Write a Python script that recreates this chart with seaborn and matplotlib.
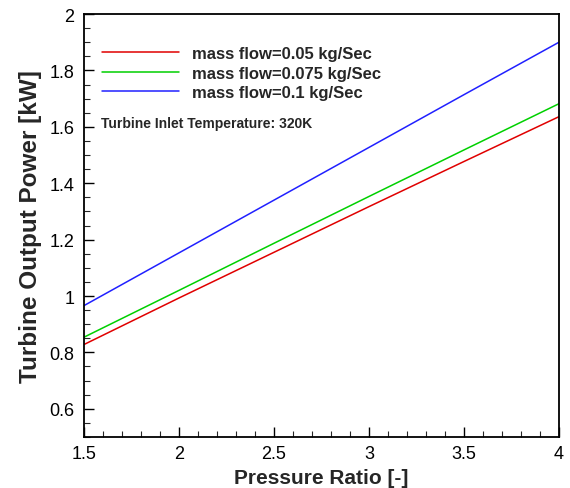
import numpy as np
import pandas as pd
import matplotlib
matplotlib.use("Agg")
import matplotlib.pyplot as plt
from matplotlib.ticker import MultipleLocator
import seaborn as sns

# values
pressure_ratio = [1.5, 2.0, 2.5, 3.0, 3.5, 4.0]
power_005 = [0.828, 0.993, 1.155, 1.317, 1.477, 1.636]
power_0075 = [0.854, 1.020, 1.187, 1.353, 1.518, 1.682]
power_01 = [0.966, 1.153, 1.340, 1.527, 1.714, 1.900]
series_labels = ["mass flow=0.05 kg/Sec", "mass flow=0.075 kg/Sec", "mass flow=0.1 kg/Sec"]
series_colors = ["#e00000", "#00d000", "#2020ff"]

sns.set_theme(style="ticks")
plt.rcParams['font.family'] = ['Liberation Sans', 'DejaVu Sans']

df = pd.DataFrame({
    "pr": pressure_ratio * 3,
    "power": power_005 + power_0075 + power_01,
    "series": [series_labels[0]] * 6 + [series_labels[1]] * 6 + [series_labels[2]] * 6,
})

fig = plt.figure(figsize=(5.7, 4.89), dpi=100)
ax = fig.add_axes([0.1474, 0.1043, 0.8333, 0.865])

sns.lineplot(data=df, x="pr", y="power", hue="series", hue_order=series_labels,
             palette=series_colors, linewidth=1.1, ax=ax)

ax.set_xlim(1.5, 4)
ax.set_ylim(0.5, 2)
ax.xaxis.set_minor_locator(MultipleLocator(0.1))
ax.yaxis.set_minor_locator(MultipleLocator(0.05))
ax.set_yticks([0.6, 0.8, 1.0, 1.2, 1.4, 1.6, 1.8, 2.0])
ax.set_yticklabels(["0.6", "0.8", "1", "1.2", "1.4", "1.6", "1.8", "2"])
ax.set_xticks([1.5, 2, 2.5, 3, 3.5, 4])
ax.set_xticklabels(["1.5", "2", "2.5", "3", "3.5", "4"])
ax.tick_params(which="major", direction="in", length=7, width=1, labelsize=13, colors="black")
ax.tick_params(axis="x", which="major", pad=6)
ax.tick_params(axis="y", which="major", pad=7)
ax.tick_params(which="minor", direction="in", length=4, width=0.8)
for s in ax.spines.values():
    s.set_linewidth(1.3)
    s.set_color("black")

ax.set_xlabel("Pressure Ratio [-]", fontsize=15, fontweight="bold", labelpad=4)
ax.set_ylabel("Turbine Output Power [kW]", fontsize=17.5, fontweight="bold", labelpad=5)

leg = ax.legend(loc="upper left", bbox_to_anchor=(0.038, 0.924), frameon=False,
                borderpad=0, borderaxespad=0,
                handlelength=4.6, handletextpad=0.8, labelspacing=0.27,
                prop={"weight": "bold", "size": 12})
ax.text(0.036, 0.742, "Turbine Inlet Temperature: 320K", transform=ax.transAxes,
        fontsize=10, fontweight="bold", va="center")

fig.savefig("out.png", dpi=100)
